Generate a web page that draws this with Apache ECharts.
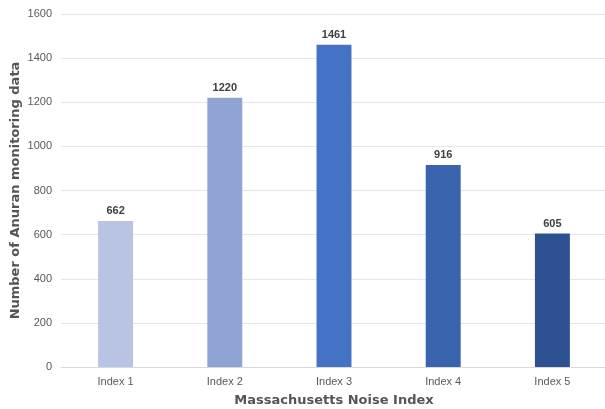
<!DOCTYPE html>
<html>
<head>
<meta charset="utf-8">
<script src="https://cdn.jsdelivr.net/npm/echarts@6/dist/echarts.min.js"></script>
<style>
html,body{margin:0;padding:0;background:#fff;}
#chart{width:605px;height:409px;}
</style>
</head>
<body>
<div id="chart"></div>
<script>
const categories = ['Index 1', 'Index 2', 'Index 3', 'Index 4', 'Index 5'];
const counts = [662, 1220, 1461, 916, 605];
const barColors = ['#B9C3E3', '#8FA3D4', '#4472C4', '#3A63AD', '#2E5191'];
const yTicks = [0, 200, 400, 600, 800, 1000, 1200, 1400, 1600];

const titleFont = { fontFamily: 'DejaVu Sans', fontSize: 13, fontWeight: 'bold', color: '#555555' };

const chart = echarts.init(document.getElementById('chart'));
chart.setOption({
  animation: false,
  grid: { left: 61, right: -2, top: 14, bottom: 42, containLabel: false, outerBoundsMode: 'none' },
  xAxis: {
    type: 'category',
    data: categories,
    name: 'Massachusetts Noise Index',
    nameLocation: 'middle',
    nameGap: 27,
    nameMoveOverlap: false,
    nameTextStyle: titleFont,
    axisLine: { lineStyle: { color: '#D9D9D9', width: 1 } },
    axisTick: { show: false },
    axisLabel: { fontFamily: 'Liberation Sans', fontSize: 11, color: '#595959', margin: 9 }
  },
  yAxis: {
    type: 'value',
    min: yTicks[0],
    max: yTicks[yTicks.length - 1],
    interval: 200,
    name: 'Number of Anuran monitoring data',
    nameLocation: 'middle',
    nameGap: 39,
    nameMoveOverlap: false,
    nameTextStyle: titleFont,
    axisLine: { show: false },
    axisTick: { show: false },
    axisLabel: {
      fontFamily: 'Liberation Sans', fontSize: 11, color: '#595959', margin: 9,
      formatter: v => String(v)
    },
    splitLine: { lineStyle: { color: '#E6E6E6', width: 1 } }
  },
  series: [{
    type: 'bar',
    data: counts.map((v, i) => ({ value: v, itemStyle: { color: barColors[i] } })),
    barWidth: '32%',
    label: {
      show: true,
      position: 'top',
      distance: 4,
      fontFamily: 'Liberation Sans',
      fontSize: 11,
      fontWeight: 'bold',
      color: '#404040'
    }
  }]
});
</script>
</body>
</html>
